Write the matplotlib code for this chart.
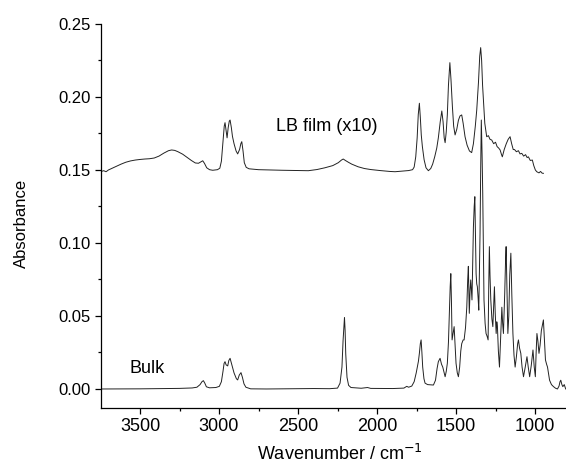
import matplotlib
matplotlib.use("Agg")
import matplotlib.pyplot as plt
from matplotlib.ticker import MultipleLocator, FormatStrFormatter

plt.rcParams['font.family'] = ['Liberation Sans', 'DejaVu Sans']

# LB film spectrum (x10, offset)
lb_wn = [3745, 3730, 3715, 3700, 3680, 3650, 3620, 3590, 3560, 3530, 3500, 3470,
         3440, 3410, 3380, 3350, 3320, 3300, 3280, 3260, 3230, 3200, 3175, 3150,
         3130, 3115, 3103, 3092, 3078, 3060, 3040, 3010, 2995, 2985, 2975, 2967,
         2962, 2955, 2949, 2942, 2935, 2930, 2922, 2915, 2905, 2892, 2882, 2870,
         2862, 2856, 2848, 2840, 2828, 2810, 2750, 2680, 2600, 2500, 2435, 2380,
         2330, 2280, 2245, 2225, 2214, 2200, 2180, 2160, 2120, 2080, 2040, 1980,
         1920, 1886, 1840, 1800, 1775, 1765, 1755, 1746, 1739, 1732, 1726, 1720,
         1713, 1702, 1690, 1675, 1660, 1648, 1635, 1622, 1612, 1600, 1590, 1582,
         1575, 1569, 1562, 1555, 1548, 1539, 1532, 1523, 1515, 1506, 1495, 1485,
         1475, 1464, 1455, 1443, 1430, 1415, 1401, 1390, 1378, 1369, 1358, 1350,
         1344, 1338, 1332, 1327, 1318, 1306, 1295, 1285, 1274, 1262, 1250, 1240,
         1230, 1221, 1212, 1207, 1195, 1182, 1170, 1158, 1148, 1138, 1130, 1118,
         1105, 1095, 1084, 1072, 1060, 1050, 1042, 1030, 1017, 1008, 998, 989,
         975, 965, 955, 947]
lb_abs = [0.1490, 0.1495, 0.1488, 0.1500, 0.1510, 0.1525, 0.1540, 0.1553, 0.1562,
          0.1568, 0.1572, 0.1575, 0.1577, 0.1582, 0.1595, 0.1615, 0.1632, 0.1637,
          0.1634, 0.1625, 0.1608, 0.1585, 0.1565, 0.1548, 0.1546, 0.1555, 0.1563,
          0.1545, 0.1515, 0.1502, 0.1498, 0.1502, 0.1512, 0.1560, 0.1690, 0.1800,
          0.1824, 0.1770, 0.1720, 0.1790, 0.1835, 0.1842, 0.1790, 0.1730, 0.1680,
          0.1630, 0.1610, 0.1640, 0.1680, 0.1694, 0.1630, 0.1550, 0.1518, 0.1508,
          0.1502, 0.1500, 0.1498, 0.1496, 0.1495, 0.1503, 0.1515, 0.1530, 0.1550,
          0.1568, 0.1575, 0.1565, 0.1552, 0.1540, 0.1522, 0.1510, 0.1503, 0.1496,
          0.1490, 0.1488, 0.1492, 0.1496, 0.1502, 0.1520, 0.1590, 0.1720, 0.1880,
          0.1957, 0.1860, 0.1740, 0.1660, 0.1570, 0.1515, 0.1495, 0.1510, 0.1540,
          0.1590, 0.1650, 0.1720, 0.1830, 0.1904, 0.1830, 0.1720, 0.1687, 0.1760,
          0.1880, 0.2080, 0.2235, 0.2120, 0.1934, 0.1800, 0.1740, 0.1780, 0.1840,
          0.1870, 0.1877, 0.1820, 0.1728, 0.1670, 0.1630, 0.1619, 0.1680, 0.1800,
          0.1910, 0.2100, 0.2280, 0.2338, 0.2250, 0.2080, 0.1986, 0.1820, 0.1728,
          0.1735, 0.1710, 0.1705, 0.1680, 0.1690, 0.1660, 0.1650, 0.1637, 0.1605,
          0.1590, 0.1640, 0.1680, 0.1710, 0.1728, 0.1680, 0.1640, 0.1640, 0.1625,
          0.1632, 0.1610, 0.1614, 0.1595, 0.1605, 0.1585, 0.1590, 0.1565, 0.1568,
          0.1530, 0.1500, 0.1488, 0.1480, 0.1490, 0.1478, 0.1477]

# Bulk spectrum
bulk_wn = [3745, 3500, 3250, 3170, 3140, 3120, 3108, 3099, 3090, 3080, 3060, 3020,
           2998, 2985, 2975, 2968, 2962, 2955, 2945, 2938, 2930, 2920, 2905, 2890,
           2882, 2872, 2861, 2852, 2842, 2830, 2800, 2700, 2500, 2400, 2300, 2250,
           2234, 2222, 2215, 2210, 2206, 2202, 2198, 2190, 2180, 2165, 2100, 2060,
           2040, 1900, 1830, 1812, 1800, 1780, 1765, 1752, 1745, 1738, 1732, 1726,
           1721, 1716, 1711, 1703, 1696, 1680, 1660, 1643, 1630, 1620, 1612, 1601,
           1592, 1584, 1575, 1569, 1562, 1555, 1548, 1542, 1537, 1533, 1529, 1525,
           1519, 1512, 1506, 1500, 1492, 1485, 1477, 1470, 1464, 1455, 1449, 1440,
           1432, 1426, 1422, 1418, 1416, 1411, 1407, 1403, 1399, 1394, 1390, 1385,
           1381, 1377, 1373, 1369, 1365, 1360, 1356, 1352, 1348, 1344, 1340, 1335,
           1331, 1327, 1323, 1316, 1310, 1303, 1297, 1293, 1289, 1285, 1280, 1273,
           1267, 1262, 1257, 1252, 1246, 1242, 1238, 1232, 1225, 1218, 1210, 1205,
           1200, 1192, 1186, 1183, 1178, 1172, 1166, 1160, 1153, 1147, 1140, 1133,
           1126, 1118, 1110, 1105, 1098, 1090, 1082, 1073, 1062, 1051, 1043, 1034,
           1024, 1013, 1005, 998, 993, 988, 982, 975, 968, 960, 953, 947, 941, 934,
           927, 921, 914, 908, 896, 883, 870, 858, 848, 842, 837, 830, 824, 815, 806]
bulk_abs = [0.0000, 0.0001, 0.0004, 0.0007, 0.0012, 0.0030, 0.0050, 0.0057, 0.0040,
            0.0015, 0.0008, 0.0010, 0.0018, 0.0050, 0.0120, 0.0175, 0.0187, 0.0165,
            0.0158, 0.0195, 0.0210, 0.0170, 0.0110, 0.0070, 0.0062, 0.0095, 0.0112,
            0.0080, 0.0035, 0.0012, 0.0001, 0.0000, 0.0002, 0.0003, 0.0002, 0.0006,
            0.0040, 0.0150, 0.0330, 0.0420, 0.0490, 0.0400, 0.0240, 0.0080, 0.0025,
            0.0010, 0.0005, 0.0010, 0.0004, 0.0003, 0.0006, 0.0018, 0.0012, 0.0020,
            0.0050, 0.0110, 0.0150, 0.0190, 0.0244, 0.0310, 0.0336, 0.0250, 0.0150,
            0.0070, 0.0040, 0.0030, 0.0028, 0.0027, 0.0060, 0.0140, 0.0187, 0.0210,
            0.0170, 0.0150, 0.0110, 0.0084, 0.0120, 0.0176, 0.0320, 0.0518, 0.0700,
            0.0790, 0.0600, 0.0336, 0.0380, 0.0427, 0.0300, 0.0176, 0.0110, 0.0084,
            0.0150, 0.0260, 0.0310, 0.0336, 0.0336, 0.0420, 0.0560, 0.0750, 0.0840,
            0.0640, 0.0518, 0.0680, 0.0747, 0.0680, 0.0610, 0.0900, 0.1110, 0.1250,
            0.1317, 0.1050, 0.0790, 0.0720, 0.0700, 0.0620, 0.0540, 0.0800, 0.1066,
            0.1500, 0.1842, 0.1600, 0.1340, 0.0950, 0.0610, 0.0450, 0.0380, 0.0360,
            0.0336, 0.0700, 0.0975, 0.0780, 0.0610, 0.0480, 0.0427, 0.0560, 0.0700,
            0.0520, 0.0380, 0.0460, 0.0427, 0.0260, 0.0150, 0.0350, 0.0560, 0.0450,
            0.0380, 0.0650, 0.0900, 0.0975, 0.0700, 0.0380, 0.0500, 0.0780, 0.0930,
            0.0650, 0.0380, 0.0230, 0.0150, 0.0220, 0.0310, 0.0336, 0.0280, 0.0244,
            0.0150, 0.0084, 0.0150, 0.0221, 0.0150, 0.0084, 0.0160, 0.0267, 0.0150,
            0.0084, 0.0250, 0.0380, 0.0330, 0.0244, 0.0300, 0.0400, 0.0440, 0.0473,
            0.0350, 0.0199, 0.0170, 0.0150, 0.0100, 0.0060, 0.0030, 0.0016, 0.0005,
            0.0000, 0.0020, 0.0050, 0.0060, 0.0030, 0.0016, 0.0030, 0.0000]

fig = plt.figure(figsize=(5.66, 4.70), dpi=100)
ax = fig.add_axes([0.179, 0.132, 0.821, 0.817])

ax.plot(lb_wn, lb_abs, color='#222222', lw=0.7)
ax.plot(bulk_wn, bulk_abs, color='#222222', lw=0.7)

ax.text(2316, 0.180, "LB film (x10)", fontsize=13, ha='center', va='center')
ax.text(3453, 0.0137, "Bulk", fontsize=13, ha='center', va='center')

ax.set_xlim(3745, 804)
ax.set_ylim(-0.013, 0.25)
ax.xaxis.set_major_locator(MultipleLocator(500))
ax.xaxis.set_minor_locator(MultipleLocator(250))
ax.yaxis.set_major_locator(MultipleLocator(0.05))
ax.yaxis.set_minor_locator(MultipleLocator(0.025))
ax.yaxis.set_major_formatter(FormatStrFormatter('%.2f'))

for s in ['top', 'right']:
    ax.spines[s].set_visible(False)
for s in ['left', 'bottom']:
    ax.spines[s].set_linewidth(0.9)

ax.tick_params(which='major', direction='out', length=4.5, width=0.9, pad=3)
ax.tick_params(which='minor', direction='out', length=2.3, width=0.9)
ax.tick_params(axis='x', labelsize=13)
ax.tick_params(axis='y', labelsize=12)

ax.set_xlabel("Wavenumber / cm$^{-1}$", fontsize=13, labelpad=6)
ax.xaxis.label.set_x(0.513)
ax.set_ylabel("Absorbance", fontsize=12)
ax.yaxis.set_label_coords(-0.155, 0.48)

fig.savefig("out.png", dpi=100)
